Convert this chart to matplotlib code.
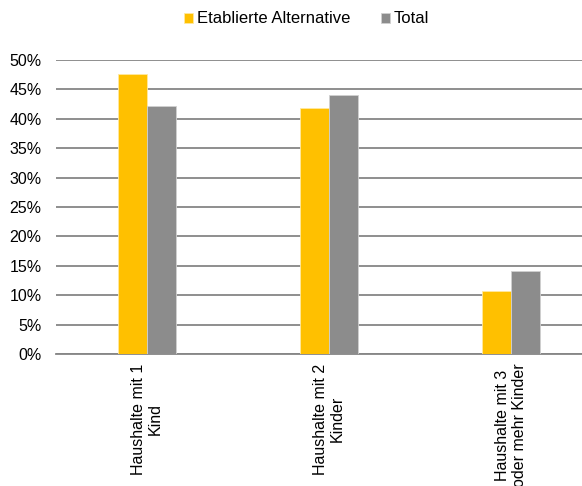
import matplotlib
matplotlib.use("Agg")
import matplotlib.pyplot as plt
import numpy as np
from matplotlib.ticker import PercentFormatter

plt.rcParams['font.family'] = ['Liberation Sans', 'DejaVu Sans']

categories = ["Haushalte mit 1\nKind", "Haushalte mit 2\nKinder", "Haushalte mit 3\noder mehr Kinder"]
series_names = ["Etablierte Alternative", "Total"]
etabliert = [47.6, 41.8, 10.7]
total = [42.2, 44.0, 14.1]
yticks = [0, 5, 10, 15, 20, 25, 30, 35, 40, 45, 50]

colors = ["#FFC000", "#8C8C8C"]
grid_color = "#868686"

fig = plt.figure(figsize=(5.82, 4.86), dpi=100)
ax = fig.add_axes([0.0962, 0.2716, 0.938, 0.605])

x = np.arange(len(categories))
w = 0.16
ax.bar(x - w / 2, etabliert, width=w, color=colors[0], label=series_names[0],
       edgecolor="#FFE9A0", linewidth=0.6, zorder=3)
ax.bar(x + w / 2, total, width=w, color=colors[1], label=series_names[1],
       edgecolor="#D0D0D0", linewidth=0.6, zorder=3)

ax.set_xlim(-0.5, 2.5)
ax.set_ylim(0, 50)
ax.set_yticks(yticks)
ax.yaxis.set_major_formatter(PercentFormatter(decimals=0))
ax.yaxis.grid(True, color=grid_color, linewidth=1.3, zorder=0)
ax.set_axisbelow(True)

for s in ["top", "right", "left"]:
    ax.spines[s].set_visible(False)
ax.spines["bottom"].set_color(grid_color)
ax.spines["bottom"].set_linewidth(1.3)

ax.tick_params(axis="y", length=0, labelsize=11.5, labelcolor="#000000", pad=10.5)
ax.set_xticks(x)
ax.set_xticklabels(categories, rotation=90, ha="center", va="top",
                   multialignment="center", fontsize=11.5)
ax.tick_params(axis="x", length=0, pad=7)

fig.legend(loc="center", bbox_to_anchor=(0.527, 0.961), ncol=2, frameon=False,
           fontsize=12, handlelength=0.55, handleheight=0.55, handletextpad=0.25,
           columnspacing=1.8)

fig.savefig("out.png", dpi=100)
